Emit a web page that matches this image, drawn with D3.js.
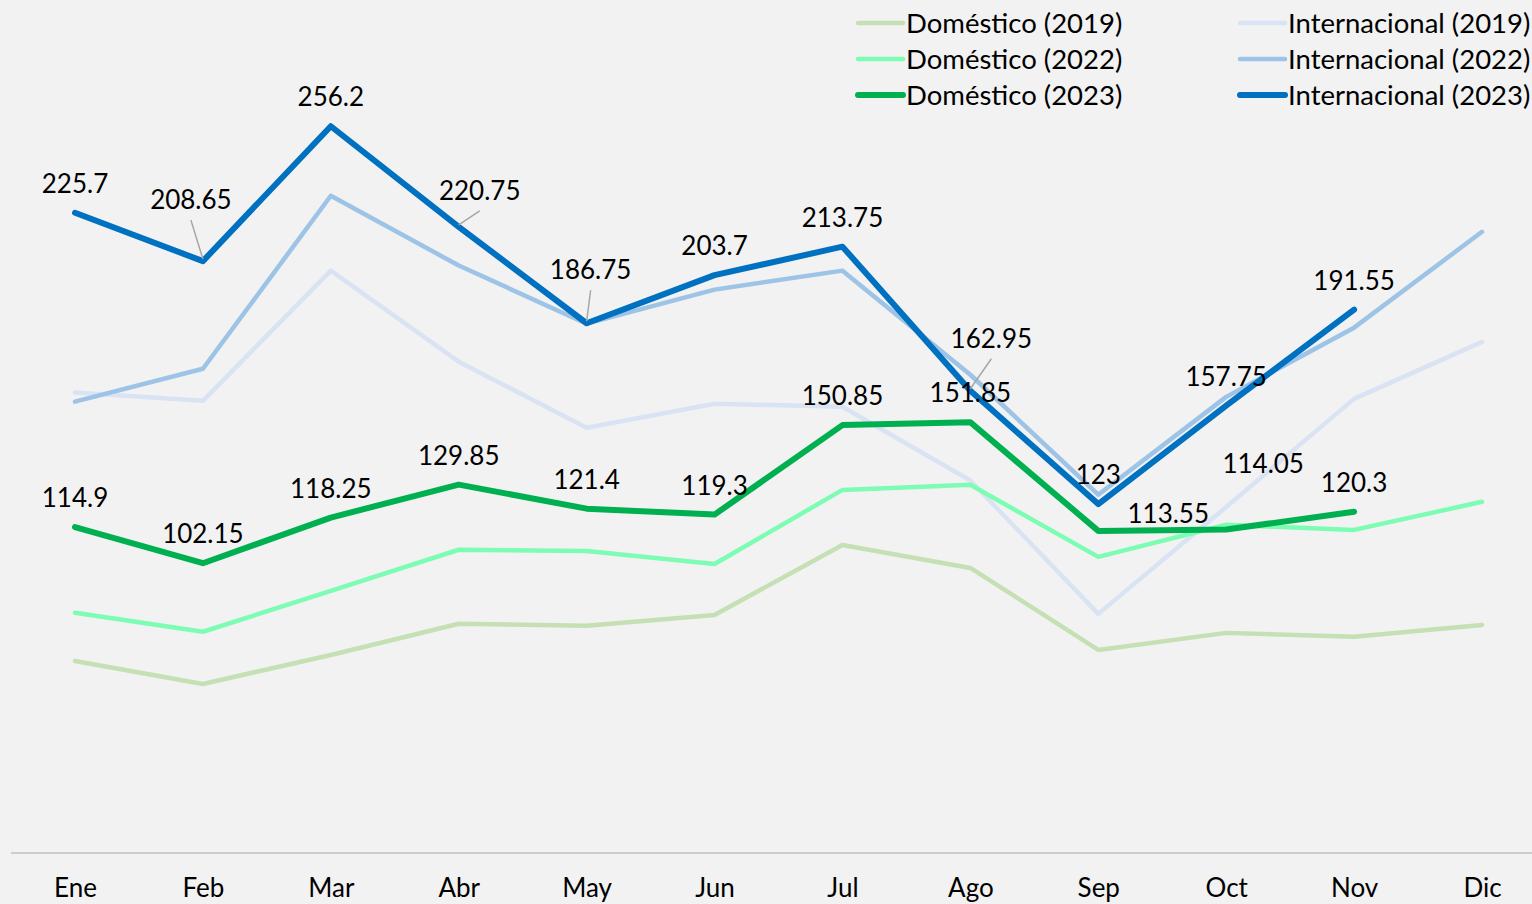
<html>
<head>
<style>
  body { margin: 0; background: #f2f2f2; }
  svg { display: block; background: #f2f2f2; }
  svg text { font-family: Lato, "Open Sans", sans-serif; fill: #000; }
  .series { fill: none; stroke-linejoin: round; stroke-linecap: round; }
</style>
</head>
<body>
<div id="chart"></div>
<script src="https://cdn.jsdelivr.net/npm/d3@7"></script>
<script>
// data
var months = ["Ene", "Feb", "Mar", "Abr", "May", "Jun", "Jul", "Ago", "Sep", "Oct", "Nov", "Dic"];

var dom2019 = [67.7, 59.6, 69.8, 80.8, 80.1, 83.9, 108.6, 100.5, 71.6, 77.6, 76.2, 80.4];
var dom2022 = [84.7, 78.0, 92.4, 106.9, 106.5, 101.9, 128.0, 129.8, 104.4, 115.7, 113.9, 123.8];
var dom2023 = [114.9, 102.15, 118.25, 129.85, 121.4, 119.3, 150.85, 151.85, 113.55, 114.05, 120.3, null];
var int2019 = [162.3, 159.4, 205.3, 173.2, 149.9, 158.4, 157.3, 131.3, 84.3, 122.0, 160.1, 180.2];
var int2022 = [159.1, 170.7, 231.7, 207.1, 186.6, 198.6, 205.3, 168.6, 126.3, 160.8, 185.2, 219.0];
var int2023 = [225.7, 208.65, 256.2, 220.75, 186.75, 203.7, 213.75, 162.95, 123, 157.75, 191.55, null];

var width = 1532, height = 904;

// series in drawing order
var series = [
  { name: "Doméstico (2019)",    values: dom2019, color: "#c5e0b4", w: 4.5, labels: false },
  { name: "Internacional (2019)", values: int2019, color: "#dae3f3", w: 4.5, labels: false },
  { name: "Doméstico (2022)",    values: dom2022, color: "#7dfcb4", w: 4.5, labels: false },
  { name: "Internacional (2022)", values: int2022, color: "#9dc3e6", w: 4.5, labels: false },
  { name: "Doméstico (2023)",    values: dom2023, color: "#00b050", w: 6,   labels: true, key: "dom" },
  { name: "Internacional (2023)", values: int2023, color: "#0070c0", w: 6,   labels: true, key: "int" }
];

// hand-moved data labels (label centre offset from the point); leader = draw a leader line
var nudge = {
  "int-Feb": { dx: -12, dy: -61, leader: true },
  "int-Abr": { dx: 21,  dy: -36, leader: true },
  "int-May": { dx: 4,   dy: -53, leader: true },
  "int-Ago": { dx: 21,  dy: -52, leader: true },
  "dom-Sep": { dx: 70,  dy: -17 },
  "dom-Oct": { dx: 37,  dy: -66 }
};

var svg = d3.select("#chart").append("svg")
    .attr("width", width)
    .attr("height", height);

var x = d3.scalePoint().domain(months).range([75, 1482]);
var y = d3.scaleLinear().domain([0, 300]).range([853, 2]);

// x axis
var xAxis = d3.axisBottom(x).tickSize(0).tickPadding(0);
var xg = svg.append("g")
    .attr("transform", "translate(0," + y(0) + ")")
    .call(xAxis);
xg.select(".domain").remove();
xg.selectAll(".tick text")
    .attr("y", 44)
    .attr("dy", null)
    .style("font-size", "26px")
    .style("font-family", "Lato, sans-serif")
    .style("fill", "#000");
svg.append("line")
    .attr("x1", 11).attr("x2", width)
    .attr("y1", y(0)).attr("y2", y(0))
    .style("stroke", "#bfbfbf")
    .style("stroke-width", 1.5);

var line = d3.line()
    .defined(function (d) { return d != null; })
    .x(function (d, i) { return x(months[i]); })
    .y(function (d) { return y(d); });

series.forEach(function (s) {
  svg.append("path")
      .classed("series", true)
      .attr("d", line(s.values))
      .style("stroke", s.color)
      .style("stroke-width", s.w);
});

// data labels for 2023
var labelG = svg.append("g");
series.filter(function (s) { return s.labels; }).forEach(function (s) {
  s.values.forEach(function (v, i) {
    if (v == null) return;
    var px = x(months[i]), py = y(v);
    var n = nudge[s.key + "-" + months[i]] || { dx: 0, dy: -29 };
    var cx = px + n.dx, cy = py + n.dy;
    if (n.leader) {
      labelG.append("line")
          .attr("x1", cx).attr("y1", cy + 20)
          .attr("x2", px).attr("y2", py - 2)
          .style("stroke", "#a6a6a6")
          .style("stroke-width", 1.5);
    }
    labelG.append("text")
        .attr("x", cx)
        .attr("y", cy)
        .attr("dy", "0.35em")
        .style("text-anchor", "middle")
        .style("font-size", "26px")
        .text(v);
  });
});

// legend, two columns
var legendOrder = [
  ["Doméstico (2019)", "Doméstico (2022)", "Doméstico (2023)"],
  ["Internacional (2019)", "Internacional (2022)", "Internacional (2023)"]
];
var colX = [858, 1240];
legendOrder.forEach(function (col, c) {
  col.forEach(function (name, r) {
    var s = series.find(function (d) { return d.name === name; });
    var ly = 23 + r * 36;
    svg.append("line")
        .attr("x1", colX[c]).attr("x2", colX[c] + 45)
        .attr("y1", ly).attr("y2", ly)
        .style("stroke", s.color)
        .style("stroke-width", s.w)
        .style("stroke-linecap", "round");
    svg.append("text")
        .attr("x", colX[c] + 48)
        .attr("y", ly)
        .attr("dy", "0.35em")
        .style("font-size", "27.5px")
        .text(name);
  });
});
</script>
</body>
</html>
